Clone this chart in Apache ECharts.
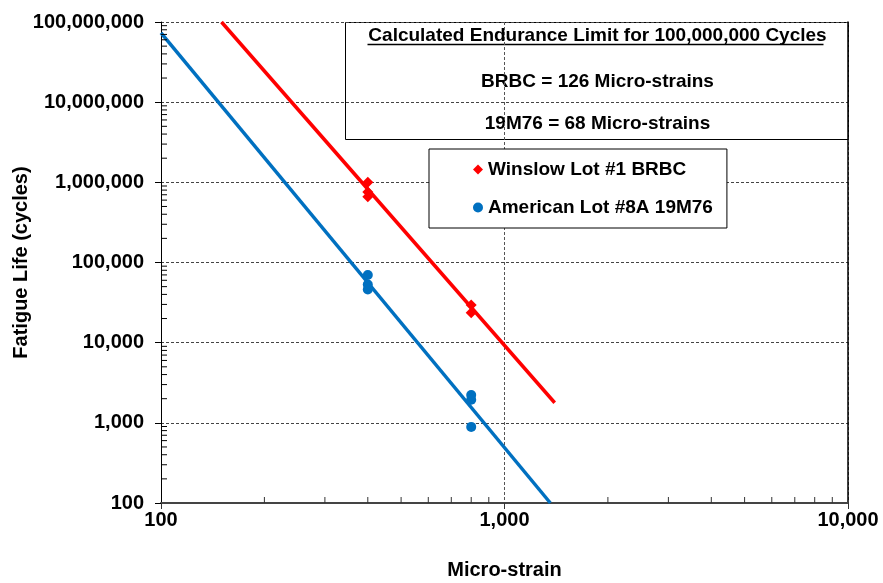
<!DOCTYPE html>
<html>
<head>
<meta charset="utf-8">
<script src="https://cdn.jsdelivr.net/npm/echarts@6/dist/echarts.min.js"></script>
<style>
  html, body { margin: 0; padding: 0; background: #fff; }
  #chart { width: 883px; height: 583px; }
</style>
</head>
<body>
<div id="chart"></div>
<script>
// measured points (micro-strain, cycles)
const winslowPoints = [[400, 1000000], [400, 760000], [400, 660000], [800, 29600], [800, 23600]]
const americanPoints = [[400, 70000], [400, 53000], [400, 46000], [800, 2230], [800, 1940], [800, 890]]
// fitted lines (end points)
const winslowFit = [[150, 100000000], [1400, 1780]]
const americanFit = [[100, 73000000], [1360, 100]]

const xTicks = [100, 1000, 10000]
const xTickLabels = ['100', '1,000', '10,000']
const yTicks = [100, 1000, 10000, 100000, 1000000, 10000000, 100000000]
const yTickLabels = ['100', '1,000', '10,000', '100,000', '1,000,000', '10,000,000', '100,000,000']
const xMinorTicks = [200, 300, 400, 500, 600, 700, 800, 900, 2000, 3000, 4000, 5000, 6000, 7000, 8000, 9000]
const yMinorTicks = [200, 300, 400, 500, 600, 700, 800, 900,
  2000, 3000, 4000, 5000, 6000, 7000, 8000, 9000,
  20000, 30000, 40000, 50000, 60000, 70000, 80000, 90000,
  200000, 300000, 400000, 500000, 600000, 700000, 800000, 900000,
  2000000, 3000000, 4000000, 5000000, 6000000, 7000000, 8000000, 9000000,
  20000000, 30000000, 40000000, 50000000, 60000000, 70000000, 80000000, 90000000]

const boxLines = ['Calculated Endurance Limit for 100,000,000 Cycles', 'BRBC = 126 Micro-strains', '19M76 = 68 Micro-strains']

const font = "'Liberation Sans', Arial, sans-serif"
const red = '#FF0000'
const blue = '#0070C0'

function labelFor(ticks, labels) {
  return function(v) {
    const i = ticks.findIndex(t => Math.abs(t - v) / t < 1e-6)
    return i >= 0 ? labels[i] : ''
  }
}

const chart = echarts.init(document.getElementById('chart'))

chart.setOption({
  animation: false,
  textStyle: { fontFamily: font },
  grid: { left: 161, right: 35, top: 22, bottom: 80, containLabel: false, outerBoundsMode: 'none' },
  legend: {
    left: 429,
    top: 149,
    orient: 'vertical',
    backgroundColor: '#fff',
    borderColor: '#000',
    borderWidth: 1,
    borderRadius: 0,
    padding: [11, 14, 11, 44],
    itemGap: 19,
    itemWidth: 10,
    itemHeight: 10,
    textStyle: { fontFamily: font, fontWeight: 'bold', fontSize: 19, color: '#000' },
    data: [
      { name: 'Winslow Lot #1 BRBC', icon: 'diamond' },
      { name: 'American Lot #8A 19M76', icon: 'circle' }
    ]
  },
  xAxis: {
    type: 'log',
    logBase: 10,
    min: 100,
    max: 10000,
    name: 'Micro-strain',
    nameLocation: 'middle',
    nameGap: 57,
    nameMoveOverlap: false,
    nameTextStyle: { fontFamily: font, fontWeight: 'bold', fontSize: 20, color: '#000' },
    axisLine: { lineStyle: { color: '#444', width: 2 } },
    axisTick: { show: true, inside: false, length: 6, lineStyle: { color: '#333' } },
    axisLabel: {
      margin: 7,
      fontFamily: font, fontWeight: 'bold', fontSize: 20, color: '#000',
      formatter: labelFor(xTicks, xTickLabels)
    },
    splitLine: { show: true, lineStyle: { color: '#555', type: [3, 2], width: 1 } }
  },
  yAxis: [{
    type: 'log',
    logBase: 10,
    min: 100,
    max: 100000000,
    name: 'Fatigue Life (cycles)',
    nameLocation: 'middle',
    nameGap: 130,
    nameMoveOverlap: false,
    nameTextStyle: { fontFamily: font, fontWeight: 'bold', fontSize: 20, color: '#000' },
    axisLine: { show: true, lineStyle: { color: '#000', width: 1 } },
    axisTick: { show: true, inside: false, length: 6, lineStyle: { color: '#000' } },
    axisLabel: {
      margin: 17,
      fontFamily: font, fontWeight: 'bold', fontSize: 20, color: '#000',
      formatter: labelFor(yTicks, yTickLabels)
    },
    splitLine: { show: true, lineStyle: { color: '#444', type: [3, 2], width: 1 } }
  }, {
    type: 'log',
    logBase: 10,
    min: 100,
    max: 100000000,
    position: 'right',
    axisLine: { show: true, lineStyle: { color: '#000', width: 1.5 } },
    axisTick: { show: false },
    axisLabel: { show: false },
    splitLine: { show: false }
  }],
  graphic: [{
    type: 'group',
    left: 345,
    top: 22,
    z: 100,
    children: [{
      type: 'rect',
      shape: { x: 0, y: 0, width: 503, height: 117 },
      style: { fill: '#fff', stroke: '#000', lineWidth: 1 }
    }, {
      type: 'text',
      x: 252, y: 13,
      style: { text: boxLines[0], font: 'bold 19px ' + font, fill: '#000', align: 'center', verticalAlign: 'middle' }
    }, {
      type: 'line',
      shape: { x1: 22, y1: 22, x2: 478, y2: 22 },
      style: { stroke: '#000', lineWidth: 1.5 }
    }, {
      type: 'text',
      x: 252, y: 59,
      style: { text: boxLines[1], font: 'bold 19px ' + font, fill: '#000', align: 'center', verticalAlign: 'middle' }
    }, {
      type: 'text',
      x: 252, y: 101,
      style: { text: boxLines[2], font: 'bold 19px ' + font, fill: '#000', align: 'center', verticalAlign: 'middle' }
    }]
  }],
  series: [{
    name: 'BRBC fit',
    type: 'line',
    data: winslowFit,
    symbol: 'none',
    lineStyle: { color: red, width: 3.5 },
    z: 3
  }, {
    name: '19M76 fit',
    type: 'line',
    data: americanFit,
    symbol: 'none',
    lineStyle: { color: blue, width: 3.5 },
    z: 3
  }, {
    name: 'Winslow Lot #1 BRBC',
    type: 'scatter',
    data: winslowPoints,
    symbol: 'diamond',
    symbolSize: 11,
    itemStyle: { color: red, opacity: 1 },
    z: 4
  }, {
    name: 'American Lot #8A 19M76',
    type: 'scatter',
    data: americanPoints,
    symbol: 'circle',
    symbolSize: 10,
    itemStyle: { color: blue, opacity: 1 },
    z: 4
  }, {
    // minor ticks on x axis (inside)
    type: 'custom',
    silent: true,
    data: xMinorTicks.map(v => [v, 100]),
    renderItem: function(params, api) {
      const p = api.coord([api.value(0), api.value(1)])
      return {
        type: 'line',
        shape: { x1: p[0], y1: p[1], x2: p[0], y2: p[1] - 6 },
        style: { stroke: '#333', lineWidth: 1 }
      }
    },
    z: 5
  }, {
    // minor ticks on y axis (inside)
    type: 'custom',
    silent: true,
    data: yMinorTicks.map(v => [100, v]),
    renderItem: function(params, api) {
      const p = api.coord([api.value(0), api.value(1)])
      return {
        type: 'line',
        shape: { x1: p[0], y1: p[1], x2: p[0] + 6, y2: p[1] },
        style: { stroke: '#000', lineWidth: 1 }
      }
    },
    z: 5
  }]
})
</script>
</body>
</html>
